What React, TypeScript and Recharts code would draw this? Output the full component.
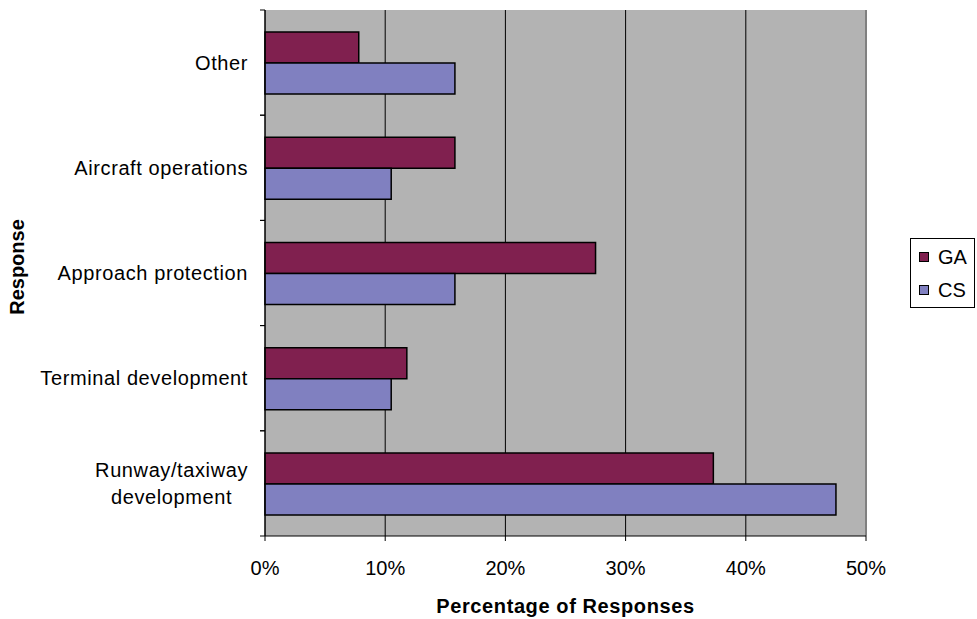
import React from "react";
import {
  BarChart,
  Bar,
  XAxis,
  YAxis,
  CartesianGrid,
  Label,
  ReferenceLine,
} from "recharts";

const categories = [
  "Other",
  "Aircraft operations",
  "Approach protection",
  "Terminal development",
  "Runway/taxiway\ndevelopment",
];
const gaValues = [7.8, 15.8, 27.5, 11.8, 37.3];
const csValues = [15.8, 10.5, 15.8, 10.5, 47.5];
const xTicks = [0, 10, 20, 30, 40, 50];

const data = categories.map((name, i) => ({
  name,
  GA: gaValues[i],
  CS: csValues[i],
}));

const FONT = "'Liberation Sans', Arial, sans-serif";
const GA_COLOR = "#80204F";
const CS_COLOR = "#8080C0";
const LABEL_SIZE = 20;
const SPACING = 0.6;

let measureCtx: CanvasRenderingContext2D | null = null;
const textWidth = (s: string, size: number) => {
  if (!measureCtx) measureCtx = document.createElement("canvas").getContext("2d");
  if (!measureCtx) return s.length * size * 0.5;
  measureCtx.font = `${size}px ${FONT}`;
  return measureCtx.measureText(s).width + s.length * SPACING;
};

const YTick = (props: any) => {
  const { x, y, payload } = props;
  const half = payload.offset || 0;
  const lines: string[] = String(payload.value).split("\n");
  const right = x - 17;
  const maxW = Math.max(...lines.map((l) => textWidth(l, LABEL_SIZE)));
  const lh = 27;
  const top = y - ((lines.length - 1) * lh) / 2;
  return (
    <g>
      <line x1={x - 5} x2={x} y1={y - half} y2={y - half} stroke="#000" />
      <line x1={x - 5} x2={x} y1={y + half} y2={y + half} stroke="#000" />
      {lines.map((l, i) => (
        <text
          key={i}
          x={lines.length > 1 ? right - maxW / 2 : right}
          y={top + i * lh}
          dy="0.35em"
          textAnchor={lines.length > 1 ? "middle" : "end"}
          fontFamily={FONT}
          fontSize={LABEL_SIZE}
          letterSpacing={SPACING}
          fill="#000"
        >
          {l}
        </text>
      ))}
    </g>
  );
};

const LegendBox = () => (
  <div
    style={{
      position: "absolute",
      left: 910,
      top: 238,
      border: "1px solid #000",
      background: "#fff",
      width: 65,
      height: 70,
      boxSizing: "border-box",
      fontFamily: FONT,
      fontSize: 20,
      color: "#000",
    }}
  >
    {[
      { label: "GA", color: GA_COLOR, top: 7 },
      { label: "CS", color: CS_COLOR, top: 40 },
    ].map((it) => (
      <div
        key={it.label}
        style={{ position: "absolute", left: 8, top: it.top, height: 22, display: "flex", alignItems: "center" }}
      >
        <span
          style={{
            display: "inline-block",
            width: 8,
            height: 8,
            border: "1px solid #000",
            background: it.color,
            marginRight: 9,
          }}
        />
        <span>{it.label}</span>
      </div>
    ))}
  </div>
);

export default function App() {
  return (
    <div style={{ position: "absolute", left: 0, top: 0, width: 977, height: 619, background: "#fff" }}>
      <BarChart
        width={977}
        height={619}
        data={data}
        layout="vertical"
        margin={{ top: 10, right: 111, bottom: 0, left: 0 }}
        barCategoryGap="21%"
        barGap={0}
      >
        <CartesianGrid horizontal={false} stroke="#000" fill="#B3B3B3" fillOpacity={1} />
        <XAxis
          type="number"
          domain={[0, 50]}
          ticks={xTicks}
          tickFormatter={(v) => `${v}%`}
          height={83}
          axisLine={{ stroke: "#000" }}
          tickLine={{ stroke: "#000" }}
          tickSize={5}
          tickMargin={20}
          tick={{ fill: "#000", fontFamily: FONT, fontSize: 20 }}
          interval={0}
        >
          <Label
            value="Percentage of Responses"
            position="insideBottom"
            offset={6}
            style={{
              fontFamily: FONT,
              fontSize: LABEL_SIZE,
              letterSpacing: SPACING,
              fontWeight: "bold",
              fill: "#000",
            }}
          />
        </XAxis>
        <YAxis
          type="category"
          dataKey="name"
          width={265}
          axisLine={{ stroke: "#000" }}
          tickLine={false}
          tickSize={0}
          tickMargin={0}
          tick={<YTick />}
          interval={0}
        >
          <Label
            content={(p: any) => {
              const vb = p.viewBox || {};
              const cx = (vb.x || 0) + 17;
              const cy = (vb.y || 0) + (vb.height || 0) / 2 - 6;
              return (
                <text
                  x={cx}
                  y={cy}
                  transform={`rotate(-90 ${cx} ${cy})`}
                  textAnchor="middle"
                  dy="0.35em"
                  fontFamily={FONT}
                  fontSize={LABEL_SIZE}
                  fontWeight="bold"
                  fill="#000"
                >
                  Response
                </text>
              );
            }}
          />
        </YAxis>
        <ReferenceLine x={50} stroke="#808080" strokeWidth={2} />
        <Bar dataKey="GA" fill={GA_COLOR} stroke="#000" strokeWidth={1.5} isAnimationActive={false} />
        <Bar dataKey="CS" fill={CS_COLOR} stroke="#000" strokeWidth={1.5} isAnimationActive={false} />
      </BarChart>
      <LegendBox />
    </div>
  );
}
